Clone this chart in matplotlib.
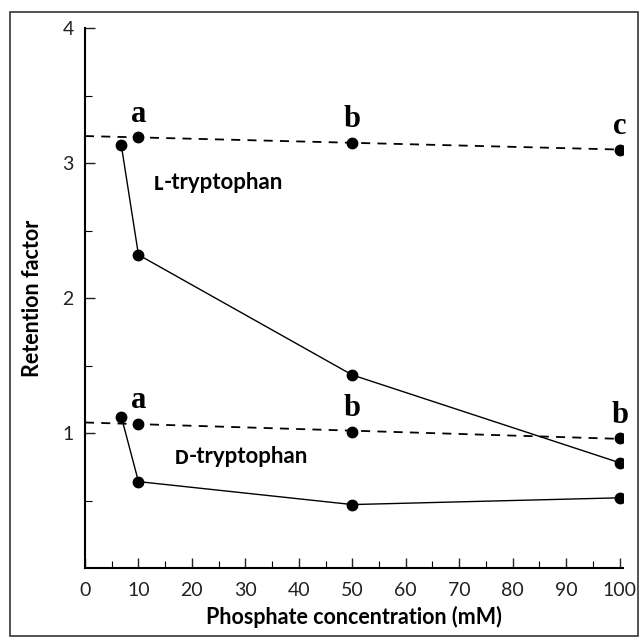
import matplotlib.pyplot as plt
import numpy as np
from matplotlib.patches import Rectangle

plt.rcParams['font.family'] = ['Lato', 'DejaVu Sans']

# L-tryptophan
l_x = [6.8, 10, 50, 100]
l_y = [3.13, 2.32, 1.43, 0.78]
l_dash_x = [10, 50, 100]
l_dash_y = [3.19, 3.15, 3.10]
l_letters = ['a', 'b', 'c']

# D-tryptophan
d_x = [6.8, 10, 50, 100]
d_y = [1.12, 0.64, 0.47, 0.52]
d_dash_x = [10, 50, 100]
d_dash_y = [1.07, 1.01, 0.96]
d_letters = ['a', 'b', 'b']

fig = plt.figure(figsize=(6.41, 6.39), dpi=100)
ax = fig.add_axes([0.1326, 0.1111, 0.839, 0.845])

# outer frame
fig.patches.append(Rectangle((10/641, 1 - 636/639), 628/641, 624/639,
                             transform=fig.transFigure, fill=False,
                             edgecolor='#444444', lw=1.3))

ax.plot(l_x, l_y, color='black', lw=1.0, marker='o', ms=7.5)
ax.plot(d_x, d_y, color='black', lw=1.0, marker='o', ms=7.5)

for dx, dy, letters in [(l_dash_x, l_dash_y, l_letters), (d_dash_x, d_dash_y, d_letters)]:
    k, b = np.polyfit(dx, dy, 1)
    xs = np.array([0, 100])
    ax.plot(xs, k * xs + b, color='black', lw=1.3, ls=(0, (5, 4)))
    ax.plot(dx, dy, 'o', color='black', ms=7.5)
    for x, y, t in zip(dx, dy, letters):
        ax.annotate(t, (x, y), xytext=(0, 6), textcoords='offset points',
                    ha='center', va='bottom', fontsize=22, fontweight='bold',
                    family='Liberation Serif')

# small-caps L / D followed by the rest of the name
for x, y, cap in [(12.8, 2.80, 'L'), (16.8, 0.77, 'D')]:
    t1 = ax.text(x, y, cap, fontsize=13, fontweight='heavy', va='baseline')
    ax.annotate('-tryptophan', xy=(1, 0), xycoords=t1, fontsize=16,
                fontweight='bold', va='bottom', xytext=(0.5, 0),
                textcoords='offset points')

ax.set_xlim(0, 100.6)
ax.set_ylim(0, 4)
ax.set_xticks(np.arange(0, 101, 10))
ax.set_xticks(np.arange(5, 101, 10), minor=True)
ax.set_yticks([1, 2, 3, 4])
ax.set_yticks([0.5, 1.5, 2.5, 3.5], minor=True)
ax.tick_params(direction='in', length=7, width=1, labelsize=14, colors='#222222', pad=8)
ax.tick_params(axis='x', pad=10)
ax.tick_params(which='minor', direction='in', length=5, width=0.8)

ax.spines['top'].set_visible(False)
ax.spines['right'].set_visible(False)
ax.spines['left'].set_linewidth(1.5)
ax.spines['bottom'].set_linewidth(1.5)

ax.set_xlabel('Phosphate concentration (mM)', fontsize=15.5, fontweight='bold', labelpad=5)
ax.set_ylabel('Retention factor', fontsize=15.5, fontweight='bold', labelpad=14)

fig.savefig('out.png', dpi=100)
